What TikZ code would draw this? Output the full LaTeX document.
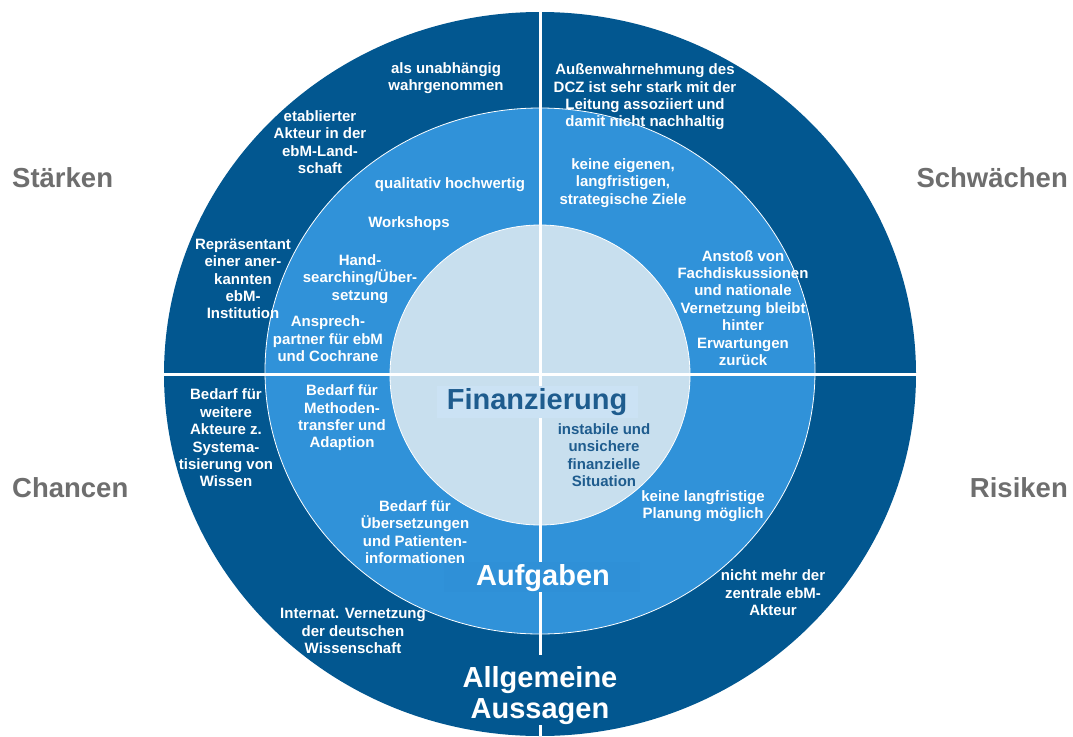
\documentclass[tikz,border=0pt]{standalone}
\usepackage{fontspec}
\setmainfont{Liberation Sans}
\usepackage{tikz}

\definecolor{ringdark}{RGB}{2,87,144}
\definecolor{ringmid}{RGB}{48,146,217}
\definecolor{ringlight}{RGB}{200,223,238}
\definecolor{boxlight}{RGB}{203,226,244}
\definecolor{boxmid}{RGB}{47,144,215}
\definecolor{titleblue}{RGB}{30,92,142}
\definecolor{sidegray}{RGB}{110,110,110}

\begin{document}
\begin{tikzpicture}[x=1pt, y=-1pt,
    txt/.style={align=center, text=white, inner sep=0pt, font=\fontsize{15}{17.4}\selectfont\bfseries},
    txtdark/.style={txt, text=titleblue},
    title/.style={inner sep=0pt, font=\fontsize{29}{31}\selectfont\bfseries},
    side/.style={inner sep=0pt, text=sidegray, font=\fontsize{27.5}{31}\selectfont\bfseries}]
\useasboundingbox (0,0) rectangle (1073,736);
% rings
\fill [ringdark] (540,374) ellipse [x radius=376, y radius=362];
\draw [white, line width=0.8, fill=ringmid] (540,371) ellipse [x radius=275, y radius=263];
\draw [white, line width=0.8, fill=ringlight] (540,375) circle (150);
% cross
\draw [white, line width=3] (540,0) -- (540,736);
\draw [white, line width=3] (150,374) -- (930,374);
% title boxes
\fill [boxlight] (437,386) rectangle (638,418);
\fill [boxmid] (444,562) rectangle (640,592);
\fill [ringdark] (455,655) rectangle (625,725);
\node [title, text=titleblue, anchor=base] (fin) at (537,409) {Finanzierung};
\node [title, text=white, anchor=base] (aufg) at (543,585) {Aufgaben};
\node [title, text=white, anchor=base, align=center] (allg) at (540,718) {Allgemeine\\Aussagen};
% side labels
\node [side, anchor=base west] (staerken) at (12,187) {Stärken};
\node [side, anchor=base west] (chancen) at (12,497) {Chancen};
\node [side, anchor=base east] (schwaechen) at (1068,187) {Schwächen};
\node [side, anchor=base east] (risiken) at (1068,497) {Risiken};
% Staerken
\node [txt] (unabh) at (446,78) {als unabhängig\\wahrgenommen};
\node [txt] (etabl) at (320,142) {etablierter\\Akteur in der\\ebM-Land-\\schaft};
\node [txt] (repr) at (243,279) {Repräsentant\\einer aner-\\kannten\\ebM-\\Institution};
\node [txt] (quali) at (450,185) {qualitativ hochwertig};
\node [txt] (works) at (409,224) {Workshops};
\node [txt] (hand) at (360,279) {Hand-\\searching/Über-\\setzung};
\node [txt] (anspr) at (328,339) {Ansprech-\\partner für ebM\\und Cochrane};
% Schwaechen
\node [txt] (aussen) at (645,97) {Außenwahrnehmung des\\DCZ ist sehr stark mit der\\Leitung assoziiert und\\damit nicht nachhaltig};
\node [txt] (ziele) at (623,183) {keine eigenen,\\langfristigen,\\strategische Ziele};
\node [txt] (anstoss) at (743,308) {Anstoß von\\Fachdiskussionen\\und nationale\\Vernetzung bleibt\\hinter\\Erwartungen\\zurück};
% Chancen
\node [txt] (akteure) at (226,438) {Bedarf für\\weitere\\Akteure z.\\Systema-\\tisierung von\\Wissen};
\node [txt] (method) at (342,418) {Bedarf für\\Methoden-\\transfer und\\Adaption};
\node [txt] (uebers) at (415,532) {Bedarf für\\Übersetzungen\\und Patienten-\\informationen};
\node [txt] (internat) at (353,631) {Internat. Vernetzung\\der deutschen\\Wissenschaft};
% Risiken
\node [txtdark] (instab) at (604,455) {instabile und\\unsichere\\finanzielle\\Situation};
\node [txt] (planung) at (703,506) {keine langfristige\\Planung möglich};
\node [txt] (zentral) at (773,593) {nicht mehr der\\zentrale ebM-\\Akteur};
\end{tikzpicture}
\end{document}
